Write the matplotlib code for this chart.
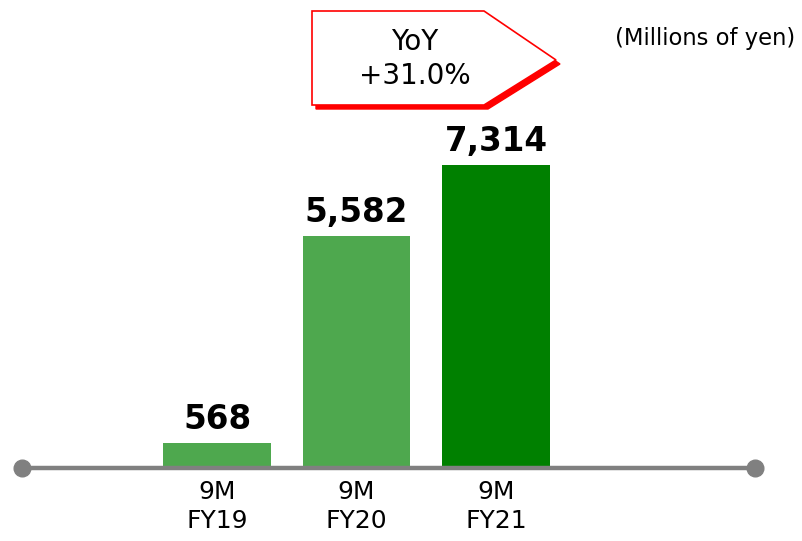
import matplotlib.pyplot as plt
from matplotlib.patches import Polygon

# data
periods = ["9M\nFY19", "9M\nFY20", "9M\nFY21"]
values = [568, 5582, 7314]
value_labels = ["568", "5,582", "7,314"]
bar_colors = ["#4ea84e", "#4ea84e", "#008000"]
yoy_text = "YoY\n+31.0%"
unit_text = "(Millions of yen)"

W, H = 802, 541
fig = plt.figure(figsize=(W / 100, H / 100), dpi=100)
ax = fig.add_axes([0, 0, 1, 1])
ax.set_xlim(-1.5556, 4.1935)
ax.set_ylim(-1823, 11324)
ax.axis("off")

xs = list(range(len(values)))
ax.bar(xs, values, width=0.774, color=bar_colors, zorder=2)

for x, v, lab in zip(xs, values, value_labels):
    ax.annotate(lab, (x, v), xytext=(0, 5), textcoords="offset points",
                ha="center", va="bottom", fontsize=23.5, fontweight="bold")
    ax.text(x, -330, periods[x], ha="center", va="top", fontsize=18,
            linespacing=1.3)

# baseline with round end markers
def fx(px):
    return px / W

def fy(py):
    return 1 - py / H

ax.plot([fx(22), fx(755)], [fy(468), fy(468)], color="#808080", lw=3.2,
        marker="o", markersize=12, transform=ax.transAxes, zorder=3,
        solid_capstyle="butt")

# YoY callout (pentagon arrow with red shadow)
pts = [(312, 11), (484, 11), (556, 60), (484, 105), (312, 105)]
shadow = Polygon([(fx(x + 4), fy(y + 4)) for x, y in pts], closed=True,
                 facecolor="red", edgecolor="red", transform=ax.transAxes,
                 zorder=4)
box = Polygon([(fx(x), fy(y)) for x, y in pts], closed=True,
              facecolor="white", edgecolor="red", lw=1.2,
              transform=ax.transAxes, zorder=5)
ax.add_patch(shadow)
ax.add_patch(box)
ax.text(fx(415), fy(59), yoy_text, ha="center", va="center", fontsize=20,
        linespacing=1.25, transform=ax.transAxes, zorder=6)

ax.text(fx(705), fy(39), unit_text, ha="center", va="center", fontsize=16.3,
        transform=ax.transAxes)

fig.savefig("out.png", dpi=100)
